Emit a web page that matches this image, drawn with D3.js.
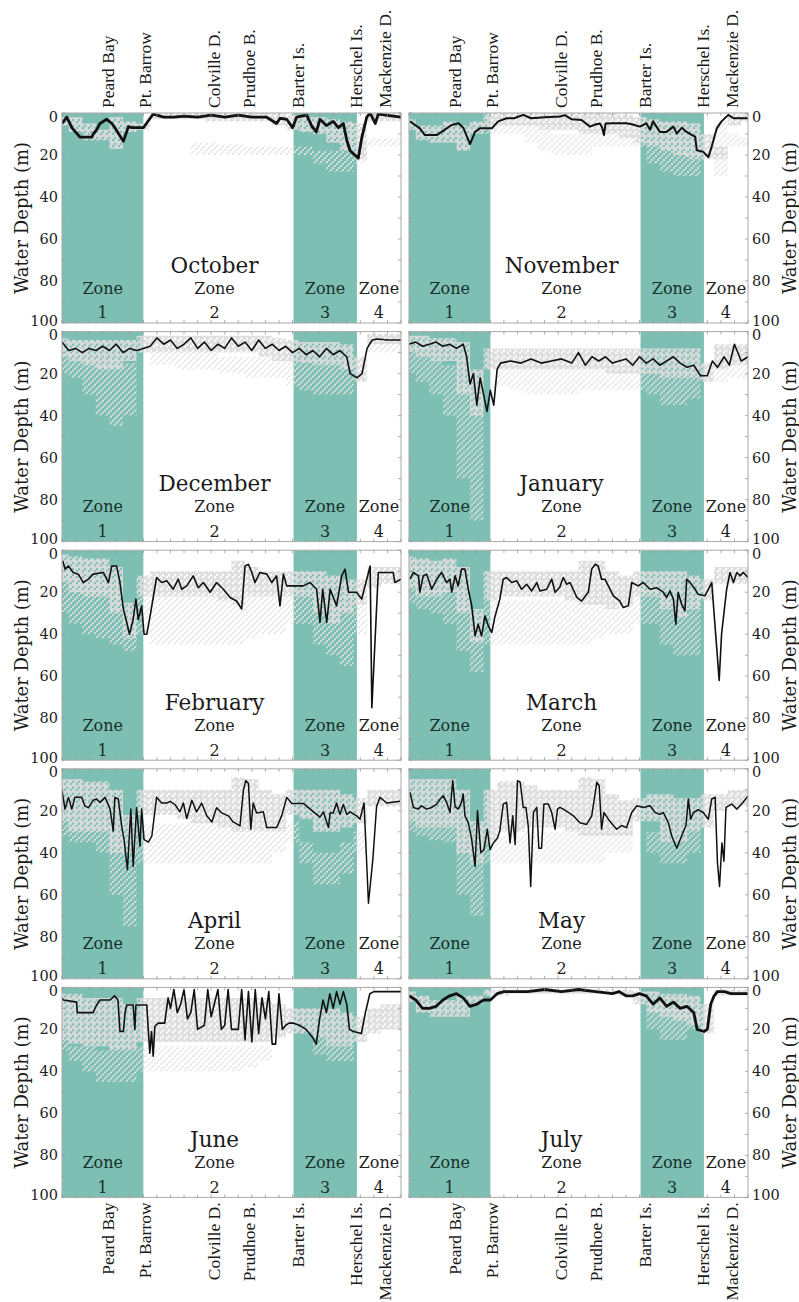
<!DOCTYPE html>
<html><head><meta charset="utf-8">
<script src="https://cdn.jsdelivr.net/npm/d3@7"></script>
<style>body{margin:0;background:#fff}svg{display:block}</style>
</head><body>
<svg id="c" width="799" height="1302"></svg>
<script>
// ---------------- DATA ----------------
const months = ["October","November","December","January","February","March","April","May","June","July"];
const zoneEdges = [0, 24, 68.3, 87, 100];
const zoneNames = ["1","2","3","4"];
const zoneLabelX = [12, 45, 77.6, 93.5];
const places = ["Peard Bay","Pt. Barrow","Colville D.","Prudhoe B.","Barter Is.","Herschel Is.","Mackenzie D."];
const placeX = [13.5, 24.3, 44.8, 55, 69.5, 86.6, 95.3];
const depthTicks = [0,20,40,60,80,100];
const xMinorTicks = [0,4,8,12,16,20,24,28,32,36,40,44,48,52,56,60,64,68,72,76,80,84,88,92,96,100];
const yMinorTicks = [0,10,20,30,40,50,60,70,80,90,100];
const cloudX = [0,4,8,12,16,20,24,28,32,36,40,44,48,52,56,60,64,68,72,76,80,84,88,92,96,100];

// black line: [position along coast (%), depth (m)]
const lineOctober = [[0,5],[1.4,2],[2.9,7],[5.3,11.5],[8.8,11.5],[9.2,10],[10.2,8],[11.2,5],[13.2,3],[14.7,5],[15.6,7],[18.1,13.5],[19.6,6.5],[20.6,7],[24,7],[26.9,0.5],[30,2],[33,2],[36,1.5],[40,2],[44,1],[48,2],[52,1],[56,2],[60.4,2],[63.3,5],[64.3,2.5],[66.3,3],[68,7],[69.2,2],[72.2,1],[73.6,6],[75,9],[76.1,3],[78,6],[80,4],[81.5,7],[83,5],[84,13],[85,18],[87.4,21.5],[88.4,12],[89.9,2],[90.9,0],[92.4,5],[93.3,0.5],[100,2]];
const lineNovember = [[0.3,4],[1.8,5.7],[3.2,7.3],[4.7,10.5],[8.2,10.5],[9.6,9],[11.1,7.3],[12.6,5.7],[14.6,4.9],[16,7],[17.5,12.8],[18,14.8],[19.5,9],[20.9,7.3],[24.4,7.3],[26.3,4],[28.8,2.5],[31,2.5],[33.7,0.9],[36,2.5],[40,2],[44.5,1.7],[46,1],[48,3],[50.9,3.3],[53.4,6.5],[55,5.5],[56.3,5],[57,7],[57.5,10.5],[58,5],[60.3,4.9],[64.2,4.9],[66,5.5],[68.1,6.5],[70,4.9],[71.1,8],[72,4],[74,9],[76,9],[78,6.5],[79,9.8],[80.5,7],[81.9,9],[83.5,10.5],[84.4,11.3],[84.9,17.7],[86.8,18.5],[88.3,21],[89.3,16],[90.8,7.3],[92.2,4],[94.2,0.9],[95.7,2.5],[100,2.5]];
const lineDecember = [[0,5],[2,9],[4,8],[6,10],[8,8],[10,9],[12,7],[14,9],[16,6],[18,10],[20,8],[22,9],[24,8],[26,7],[28,3],[30,6],[32,4],[34,8],[36,6],[38,3],[40,8],[42,5],[44,9],[46,6],[48,8],[50,3],[52,7],[54,5],[56,9],[58,4],[60,8],[62,6],[64,9],[66,7],[68,10],[70,8],[72,11],[74,9],[76,12],[78,8],[80,11],[82,9],[84,12],[85,20],[87,22],[88.5,20],[90,8],[91.5,4],[93,3.5],[96,4],[100,4]];
const lineJanuary = [[0,6],[2,5],[4,7],[6,6],[8,5],[10,7],[12,6],[14,8],[16,6],[17,12],[18,25],[19,20],[20,35],[21,22],[22,30],[23,38],[24,28],[25,35],[26,18],[27,15],[30,14],[33,15],[36,13],[39,15],[42,14],[45,13],[48,15],[50,10],[52,16],[54,12],[56,14],[58,12],[60,15],[62,14],[64,13],[66,16],[68,12],[70,15],[72,13],[74,16],[76,14],[78,12],[80,15],[82,17],[84,16],[86,21],[88,21],[89.5,14],[91,17],[93,12],[94.5,16],[96,6],[98,14],[100,12]];
const lineFebruary = [[0.2,5],[0.9,9],[1.9,7.5],[3.3,10.6],[4.8,11.4],[6.3,15.4],[7.8,13.8],[9.2,11.4],[12.2,10.6],[13.7,15.4],[14.7,7.5],[16.1,7.5],[17.1,15.4],[18.1,28],[19.1,34.4],[19.9,40],[21,33],[21.8,23.3],[22.5,33],[23.5,26.5],[24.2,40],[25,40],[26,31.3],[27.9,13],[29.4,15.4],[30.9,14.6],[32.8,18.6],[34.3,13.8],[35.3,18.6],[36.8,17],[38.7,12.2],[40.2,17.9],[41.7,15.4],[43.7,20],[45.6,15.4],[47.6,18.6],[49.6,22.5],[51.5,24.2],[53,28],[54,7.5],[55,6.7],[56,10.6],[56.9,15.4],[58.4,10.6],[60.4,11.4],[61.9,15.4],[63.3,12.2],[64.3,26.5],[65.3,11.4],[66.3,17],[68.2,17],[71.2,17],[73.2,15.4],[75.1,18.6],[76.1,34.4],[76.9,18.6],[78.1,34.4],[79.1,18.6],[81,26.5],[82.5,12.2],[83.5,9],[84.5,20],[86.9,20],[88.4,23.3],[89.9,13.8],[90.9,7.5],[91.4,75],[93.3,10.6],[94.8,10.6],[97.7,10.6],[98.2,15.4],[100,13.8]];
const lineMarch = [[0.3,13.8],[1.3,10.6],[2.8,12.2],[3.2,20],[4.2,12.2],[5.2,11.4],[6.7,18.6],[8.2,13.8],[9.6,10.6],[11.1,15.4],[12.1,13.8],[12.6,20],[13.6,12.2],[14.5,17],[15.5,9],[16.5,9],[17.5,18.6],[18.5,26.5],[19.5,40.8],[20.4,35.2],[21.4,40.8],[22.4,31.3],[23.4,36],[24.4,39.2],[25.4,31.3],[26.8,23.3],[27.8,13.8],[28.8,13],[30.3,15.4],[31.8,14.6],[33.2,18.6],[34.7,16.2],[36.2,19.4],[37.7,15.4],[38.6,19.4],[40.6,18.6],[42.1,13.8],[43.1,20],[44.5,17.5],[45.5,13],[46.5,16.2],[47.5,15.4],[49.5,22.5],[50.9,24.2],[52.9,20],[53.9,9],[54.9,6.7],[55.8,7.5],[56.8,13.8],[57.8,13.8],[58.8,17],[60.3,21.7],[62.2,24.2],[63.2,27.3],[64.7,26.5],[65.7,15.4],[67.6,17],[69.1,15.4],[71.1,18.6],[73.1,17.9],[75,20],[76,22.5],[77,19.4],[78,23.3],[78.7,35.2],[79.4,20],[80.4,25.7],[81.4,28.9],[81.9,13.8],[82.9,15.4],[84.4,18.6],[85.3,21],[87.3,21.7],[89.3,15.4],[91.5,62],[92.2,40],[93.7,18.6],[94.7,10.6],[95.7,15.4],[96.7,10.6],[97.6,12.2],[98.6,10.6],[100,13]];
const lineApril = [[0,10.4],[0.9,19.2],[1.9,13.6],[2.9,19.2],[3.8,13.6],[5.8,13.6],[6.8,17.8],[7.8,18.5],[9.2,15],[10.2,14.4],[11.2,16],[12.7,13.6],[14.2,19.2],[15.1,29.7],[15.6,13.6],[16.6,14.4],[17.6,27.2],[18.3,33.7],[19.3,48],[20.3,19.2],[21,46.5],[22,18.5],[23,36.9],[23.5,19.2],[24.2,33.7],[25.5,34.9],[26.5,32],[27.9,13.6],[29.4,16.3],[30.9,16.3],[31.9,15.5],[33.3,17],[34.8,20.5],[35.8,16.3],[36.8,23.7],[38.3,15],[39.7,20.5],[41.2,16.3],[42.7,22.4],[44.2,25.3],[45.6,18.5],[47.1,21],[49.1,22.4],[50.5,25.3],[52.5,27.2],[53.5,10.4],[54.2,5.6],[55,7],[55.7,28.8],[56.4,16.3],[57.4,21],[59.4,20.5],[60.4,28],[63.3,28],[64.8,22.4],[66.3,13.6],[67.8,16.5],[69.7,16.5],[71.2,16.5],[73.2,19.2],[76.1,23],[77.1,20.5],[78.6,28],[79.1,21],[80,21],[81,16.3],[82,21.7],[83,17],[84,21.7],[85,20.5],[86.9,22.4],[87.9,24],[89.1,16.3],[90.4,64],[91.7,43],[92.8,17.8],[93.8,13.6],[95.8,16.3],[99.7,15.5]];
const lineMay = [[0.3,11.2],[1.3,18.4],[2.8,19.2],[3.7,17.6],[5.2,19.2],[6.7,18.4],[8.2,16.8],[9.2,14.4],[10.1,12.8],[11.1,16],[12.1,20.8],[12.9,5.6],[13.6,18],[14.5,19.2],[15.5,16],[16,12],[16.5,22.4],[17.5,25.6],[18.5,33.7],[19.5,46.5],[20.2,20],[21.2,40],[22.1,38.5],[23.1,28.8],[23.9,38.5],[24.9,35.3],[26.1,33],[26.8,29.5],[27.8,16.8],[28.8,16],[29.8,35.3],[30.6,22.4],[31.3,36],[32,5.6],[32.8,6.4],[33.7,18.4],[34.5,18.4],[35.2,27.5],[35.9,56],[36.7,20.8],[37.7,18.4],[38.3,37.8],[39.1,37.8],[39.8,16.8],[41.1,16.8],[42.1,20.8],[43.1,28.8],[43.8,19.2],[44.5,18.4],[45.5,19.2],[47,20.8],[48.5,22.4],[50.4,25.7],[52.4,26.5],[53.9,22.4],[55.4,6.4],[56.1,8],[56.8,28.8],[57.5,20.8],[58.8,24],[60.3,27],[61.3,28.8],[62.7,27],[64.2,28],[65.7,20.8],[67.2,17.6],[69.1,18.4],[71.1,17.6],[72.6,20.8],[74,21.7],[75,20.8],[76.5,25.6],[77.5,32],[79,37.8],[80.4,32],[81.7,27],[82.4,14.4],[83.1,24],[83.9,20.8],[85.3,19.5],[86.8,20.8],[88.3,24],[89.3,14.4],[90.3,13.6],[91,45],[91.6,56],[92.3,35.3],[92.9,44],[93.5,18.4],[95.2,16.8],[96.7,19.2],[98.1,16.8],[100,13]];
const lineJune = [[0,5],[0.4,6],[4.3,7],[4.5,12],[9.2,12],[10,9],[11.2,6],[14.2,6],[15.5,4],[16.5,6],[17.1,21],[18.1,21],[18.6,12],[19.1,8.4],[21,8.4],[21.5,20],[21.8,8.4],[25,8.4],[25.9,31.3],[26.4,21],[26.9,32.8],[27.4,18.5],[28.4,17],[30.3,17],[31.3,5],[32,10],[33,1],[34,12],[35,8],[36,1],[37,15],[38,12],[39,1],[40,20],[42,18],[43,1],[44,14],[46,1],[47,20],[48,18],[49,1],[50,20],[52,20],[53,1],[54,25],[55,2],[56,26],[57,1],[58,22],[59,5],[60,15],[61,2],[62,27],[63,27],[64,3],[65,20],[66,18],[67,17],[68.2,17],[70,18],[72,20],[74,24],[75,27],[76,15],[77,6],[78,12],[79,3],[80,10],[81,2],[82,8],[83,2],[84,8],[84.8,20],[86,21],[88.3,22],[89.5,12],[90.8,3],[92,2],[100,2]];
const lineJuly = [[0,4],[2,6],[4,10],[6,10],[8,9],[10,6],[12,4],[14,3],[16,5],[18,9],[20,8],[22,6],[24,6],[26,3],[28,2],[30,2],[35,2],[40,1],[45,2],[50,1],[55,2],[60,3],[62,2],[64,4],[66,4],[68,3],[70,4],[72,8],[74,5],[76,9],[78,7],[80,10],[82,9],[84,12],[85,20],[87,21],[88,20],[89,8],[90,4],[91,2],[93,2],[95,3],[100,3]];

// gray echo cloud at cloudX: [denseTop, denseBottom, sparseTop, sparseBottom] (m)
const cloudOctober = [
 [2,2,5,8,2,4,5,0,0,0,0,0,0,0,0,0,0,1,2,2,3,4,5,0,0,0],
 [6,9,13,13,17,9,8,3,3,3,3,4,4,4,4,4,6,8,9,10,14,18,22,4,4,4],
 [0,0,0,0,0,0,0,0,0,0,14,14,15,15,16,16,16,16,16,18,18,18,20,12,12,12],
 [0,0,0,0,0,0,0,0,0,0,20,20,20,20,20,20,20,20,20,24,28,28,24,16,16,16]];
const cloudNovember = [
 [3,6,6,4,6,4,0,0,0,0,0,0,0,0,0,0,1,2,3,4,4,5,10,16,1,0],
 [8,13,14,14,18,10,8,6,6,6,8,8,8,10,10,10,12,14,16,18,20,22,22,22,6,4],
 [0,0,0,0,0,0,4,4,4,4,8,10,10,10,10,10,10,10,14,14,14,14,0,4,10,12],
 [0,0,0,0,0,0,10,10,10,14,18,20,20,20,16,16,16,16,24,28,30,30,0,30,16,16]];
const cloudDecember = [
 [3,4,4,4,4,4,2,2,2,2,2,2,2,2,2,2,3,4,5,5,5,6,12,1,1,1],
 [12,14,16,18,18,14,10,10,10,10,10,10,10,10,10,12,14,14,15,16,16,18,24,6,6,6],
 [10,10,12,15,15,15,0,10,10,10,10,10,12,12,12,12,12,14,14,14,14,14,0,5,5,5],
 [20,22,30,40,45,40,0,16,16,18,18,18,20,20,22,22,22,26,28,30,30,30,0,10,10,10]];
const cloudJanuary = [
 [2,2,3,3,5,18,8,8,8,8,8,8,8,8,8,8,8,8,8,8,8,8,15,6,6,6],
 [10,12,14,14,30,40,18,18,18,18,18,18,18,18,18,20,20,20,20,22,22,22,24,18,16,16],
 [10,12,14,16,25,30,0,18,18,18,18,18,18,18,18,18,18,18,18,20,20,20,0,16,16,16],
 [20,24,30,40,70,90,0,26,28,30,30,30,30,28,28,28,28,28,30,35,35,32,0,24,22,22]];
const cloudFebruary = [
 [2,3,4,4,8,25,12,10,10,10,10,10,10,5,8,10,10,10,10,10,12,14,14,8,8,8],
 [15,20,22,22,30,42,22,22,22,22,22,22,24,26,22,22,22,22,22,30,35,30,26,18,16,16],
 [5,10,12,15,20,30,22,22,22,22,22,22,22,22,22,22,22,22,20,22,25,25,20,0,0,0],
 [30,35,40,42,45,48,40,45,45,45,45,45,45,45,42,40,40,35,35,45,50,55,40,0,0,0]];
const cloudMarch = [
 [3,4,5,4,8,28,10,10,10,10,10,10,10,5,5,10,12,10,10,10,10,12,14,8,8,8],
 [18,22,22,20,30,44,24,22,22,22,22,22,24,26,26,28,26,22,22,28,32,28,24,16,16,16],
 [5,8,10,12,20,35,24,24,24,24,24,24,24,24,24,24,24,20,20,22,25,25,0,0,8,8],
 [25,28,30,35,48,58,45,45,45,45,45,45,45,45,42,40,40,35,35,45,50,50,0,0,14,14]];
const cloudApril = [
 [5,5,6,6,10,22,10,10,10,10,10,10,10,4,5,10,12,10,10,10,10,12,14,10,10,10],
 [25,30,30,30,40,40,22,22,22,24,26,26,28,30,30,30,30,22,24,30,30,28,26,18,18,18],
 [20,25,25,25,30,40,26,26,26,26,26,26,26,26,30,30,30,25,35,40,40,35,30,0,0,0],
 [32,35,35,40,60,75,45,45,45,45,45,45,45,45,45,45,40,35,45,55,55,50,40,0,0,0]];
const cloudMay = [
 [5,5,5,5,10,25,10,6,6,8,10,10,10,4,5,12,15,14,12,12,14,14,12,12,10,10],
 [25,28,28,28,40,45,35,30,30,28,28,28,30,32,32,32,32,25,25,35,35,30,28,20,18,18],
 [20,22,22,20,30,35,35,32,32,30,30,30,30,32,32,32,30,0,30,35,35,30,0,0,0,0],
 [30,32,34,35,60,70,45,45,45,45,45,45,45,45,45,40,40,0,40,45,45,40,0,0,0,0]];
const cloudJune = [
 [3,3,5,5,5,8,5,5,5,5,5,5,5,5,5,5,8,10,10,10,10,12,14,10,8,8],
 [25,27,28,28,30,30,26,26,26,26,26,26,26,26,26,26,24,22,22,24,28,28,26,22,20,20],
 [25,28,28,30,30,30,28,28,28,28,28,28,28,28,28,28,0,0,0,24,28,28,0,0,0,0],
 [30,35,40,45,45,45,40,40,40,40,40,40,40,40,38,35,0,0,0,32,35,35,0,0,0,0]];
const cloudJuly = [
 [2,4,6,6,4,4,1,1,1,1,1,1,1,1,1,1,1,2,2,3,3,4,8,1,1,1],
 [7,12,14,14,14,8,4,4,3,3,3,3,3,3,3,3,4,8,12,14,16,18,22,4,4,4],
 [0,0,0,0,0,0,0,0,0,0,0,0,0,0,0,0,0,0,10,10,10,10,0,0,0,0],
 [0,0,0,0,0,0,0,0,0,0,0,0,0,0,0,0,0,0,20,25,25,20,0,0,0,0]];

const lines = {October:lineOctober,November:lineNovember,December:lineDecember,January:lineJanuary,February:lineFebruary,March:lineMarch,April:lineApril,May:lineMay,June:lineJune,July:lineJuly};
const clouds = {October:cloudOctober,November:cloudNovember,December:cloudDecember,January:cloudJanuary,February:cloudFebruary,March:cloudMarch,April:cloudApril,May:cloudMay,June:cloudJune,July:cloudJuly};

// ---------------- STYLE / LAYOUT ----------------
const lineWidth = {October:2.8,November:2.0,December:1.6,January:1.6,February:1.6,March:1.6,April:1.5,May:1.5,June:1.6,July:2.8};
const teal = "#7ebfb3";
const colX = [62, 409], rowTop = [113, 331.6, 550.2, 768.8, 987.4], W = 339, H = 210;
const serifA = "'DejaVu Serif', serif";
const serifB = "'Liberation Serif', 'Times New Roman', serif";

const svg = d3.select("#c");
const defs = svg.append("defs");
function speckle(id, color, cells, op){
  const p = defs.append("pattern").attr("id",id).attr("patternUnits","userSpaceOnUse").attr("width",6).attr("height",6);
  cells.forEach(c=>p.append("rect").attr("x",c[0]).attr("y",c[1]).attr("width",2).attr("height",2).attr("fill",color).attr("opacity",op));
}
speckle("dense", "#dcdcdc", [[0,0],[2,0],[4,2],[0,2],[2,4],[4,4],[0,4]], 0.9);
speckle("sparse", "#e4e4e4", [[0,0],[4,2],[2,4]], 0.85);

const x = d3.scaleLinear().domain([0,100]).range([0,W]);
const y = d3.scaleLinear().domain([0,100]).range([0,H]);

months.forEach((m,i)=>{
  const col = i%2, row = Math.floor(i/2);
  const g = svg.append("g").attr("transform",`translate(${colX[col]},${rowTop[row]})`);
  g.append("clipPath").attr("id","clip"+i).append("rect").attr("width",W).attr("height",H);
  const body = g.append("g").attr("clip-path",`url(#clip${i})`);

  body.selectAll("rect.zone").data([0,2]).join("rect")
    .attr("x",d=>x(zoneEdges[d])).attr("width",d=>x(zoneEdges[d+1])-x(zoneEdges[d]))
    .attr("y",0).attr("height",H).attr("fill",teal);

  const c = clouds[m];
  const band = (ti,bi)=> d3.area().curve(d3.curveStep)
     .x((d,k)=>x(cloudX[k])).y0((d,k)=>y(c[ti][k])).y1((d,k)=>y(c[bi][k]));
  body.append("path").attr("d",band(2,3)(cloudX)).attr("fill","url(#sparse)");
  body.append("path").attr("d",band(0,1)(cloudX)).attr("fill","url(#dense)");

  body.append("path").datum(lines[m])
    .attr("d", d3.line().x(d=>x(d[0])).y(d=>y(d[1])))
    .attr("fill","none").attr("stroke","#111").attr("stroke-width",lineWidth[m])
    .attr("stroke-linejoin","round");

  g.append("rect").attr("width",W).attr("height",H).attr("fill","none").attr("stroke","#a8a8a8").attr("stroke-width",1);

  const tk = g.append("g").attr("stroke","#999").attr("stroke-width",0.8);
  xMinorTicks.forEach(t=>{
    tk.append("line").attr("x1",x(t)).attr("x2",x(t)).attr("y1",0).attr("y2",3);
    tk.append("line").attr("x1",x(t)).attr("x2",x(t)).attr("y1",H).attr("y2",H-3);
  });
  yMinorTicks.forEach(t=>{
    tk.append("line").attr("x1",0).attr("x2",3).attr("y1",y(t)).attr("y2",y(t));
    tk.append("line").attr("x1",W).attr("x2",W-3).attr("y1",y(t)).attr("y2",y(t));
  });

  const labs = g.append("g").attr("font-family",serifA).attr("font-size",14.5).attr("fill","#222");
  depthTicks.forEach(t=>{
    const nudge = t===0 ? 3.5 : (t===100 ? -2.5 : 0);
    labs.append("text").attr("x", col===0 ? -4 : W+4).attr("y",y(t)+nudge).attr("dy","0.35em")
      .attr("text-anchor", col===0 ? "end" : "start").text(t);
  });

  g.append("text").attr("x",x(45)).attr("y",y(76)).attr("text-anchor","middle")
    .attr("font-family",serifA).attr("font-size",21.5).attr("fill","#1a1a1a").text(m);

  zoneNames.forEach((z,k)=>{
    const fill = (k===0||k===2) ? "#16302b" : "#1f1f1f";
    g.append("text").attr("x",x(zoneLabelX[k])).attr("y",y(86)).attr("text-anchor","middle")
      .attr("font-family",serifA).attr("font-size",16).attr("fill",fill).text("Zone");
    g.append("text").attr("x",x(zoneLabelX[k])).attr("y",y(97.8)).attr("text-anchor","middle")
      .attr("font-family",serifA).attr("font-size",16).attr("fill",fill).text(z);
  });

  const ty = H/2;
  if(col===0){
    g.append("text").attr("transform",`translate(${-34},${ty}) rotate(-90)`).attr("text-anchor","middle")
      .attr("font-family",serifA).attr("font-size",18).attr("fill","#1a1a1a").text("Water Depth (m)");
  } else {
    g.append("text").attr("transform",`translate(${W+42},${ty}) rotate(-90)`).attr("text-anchor","middle").attr("dy","0.35em")
      .attr("font-family",serifA).attr("font-size",18).attr("fill","#1a1a1a").text("Water Depth (m)");
  }

  if(row===0){
    places.forEach((p,k)=>{
      g.append("text").attr("transform",`translate(${x(placeX[k])},${-5}) rotate(-90)`).attr("dy","0.35em")
        .attr("text-anchor","start").attr("font-family",serifB).attr("font-size",17.5).attr("fill","#1a1a1a").text(p);
    });
  }
  if(row===4){
    places.forEach((p,k)=>{
      g.append("text").attr("transform",`translate(${x(placeX[k])},${H+5}) rotate(-90)`).attr("dy","0.35em")
        .attr("text-anchor","end").attr("font-family",serifB).attr("font-size",17.5).attr("fill","#1a1a1a").text(p);
    });
  }
});
</script>
</body></html>
